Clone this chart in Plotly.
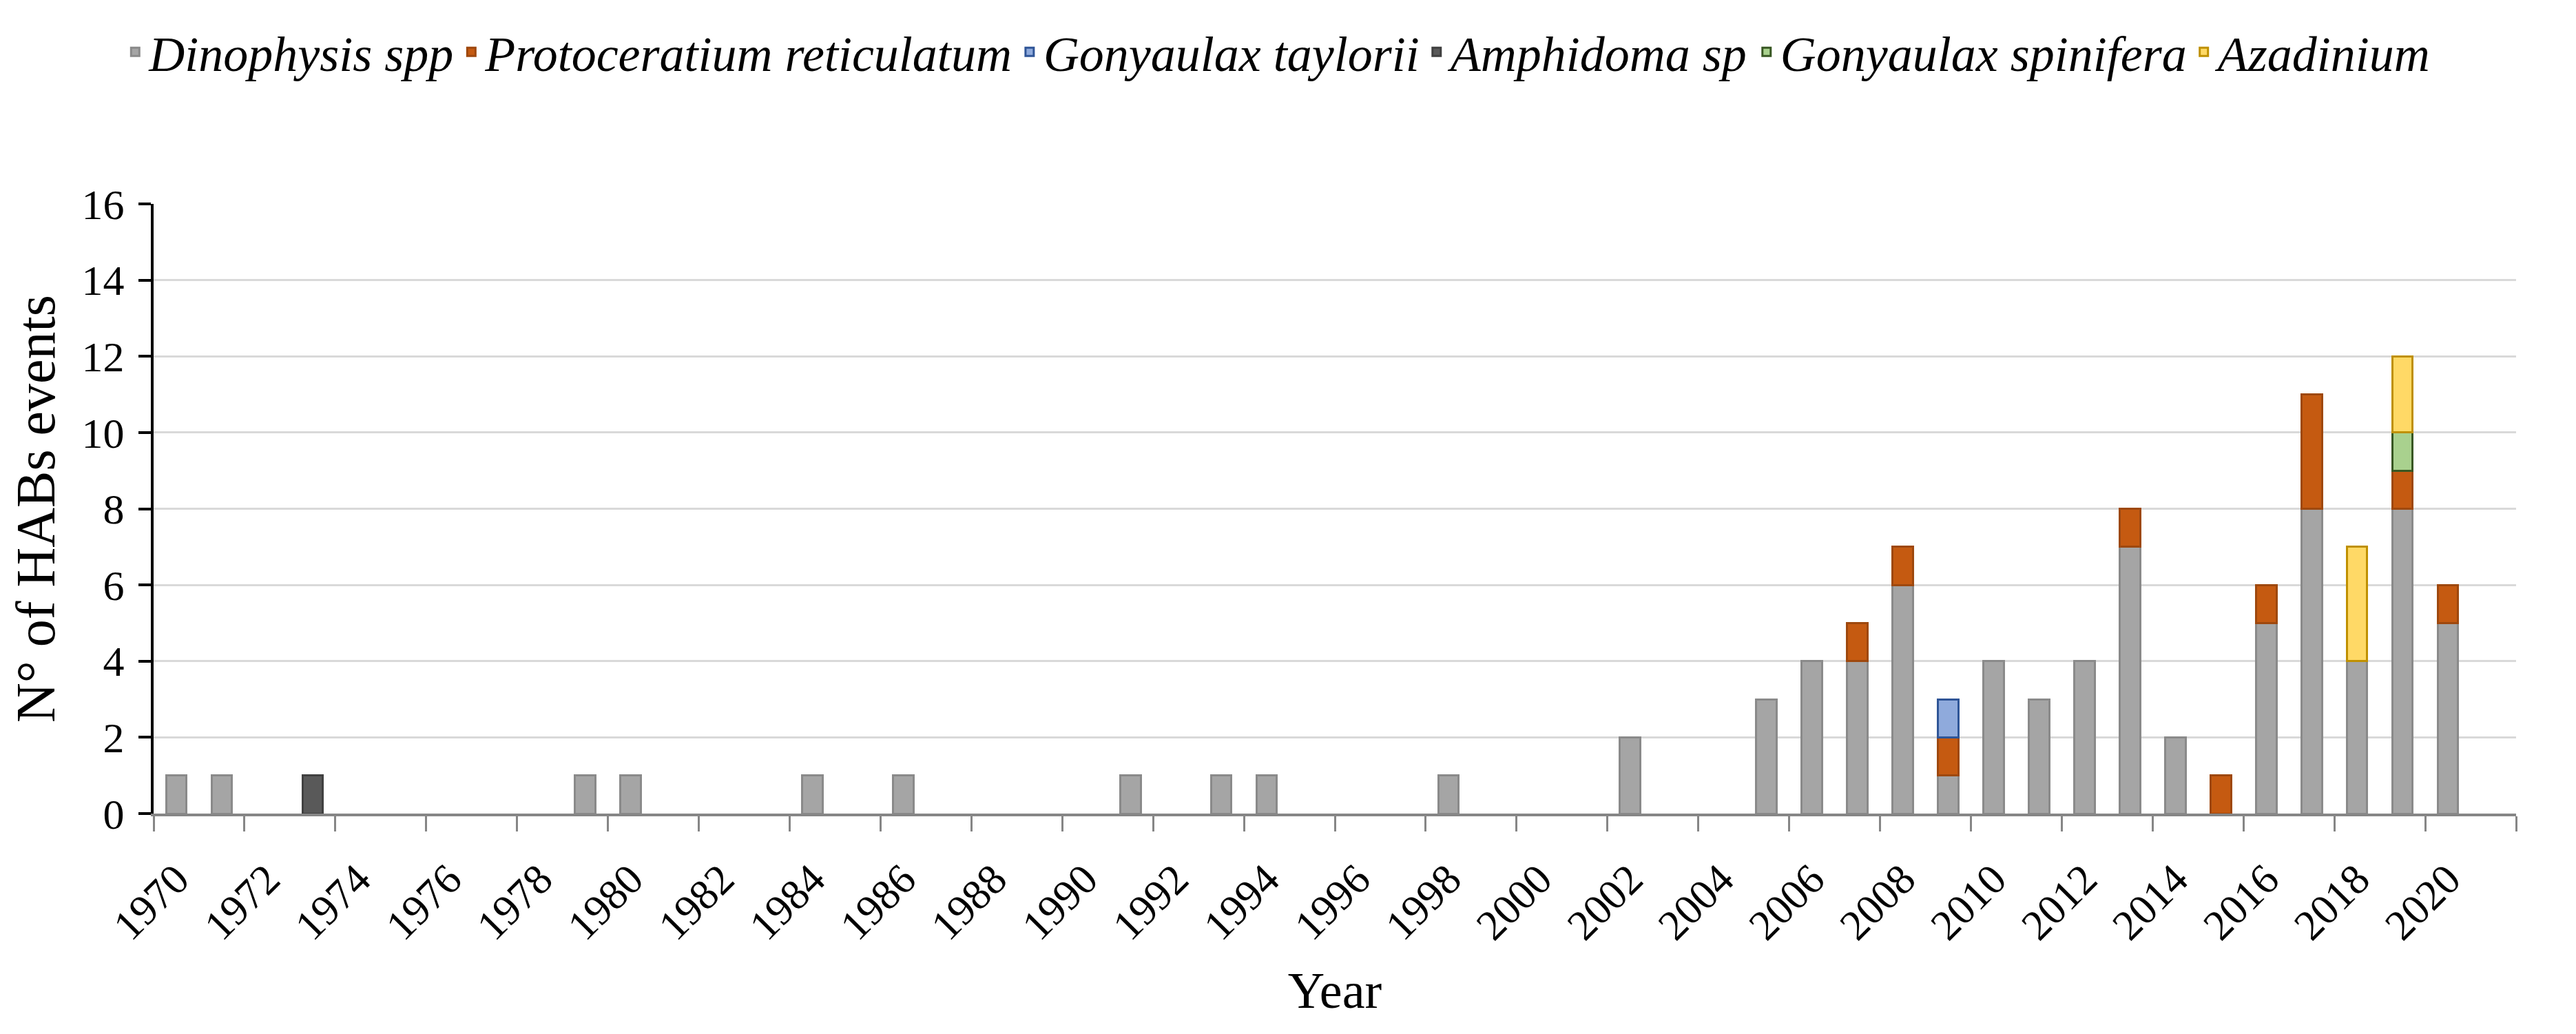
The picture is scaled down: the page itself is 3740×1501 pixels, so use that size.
import plotly.graph_objects as go

years = list(range(1970, 2022))

dinophysis = [1, 1, 0, 0, 0, 0, 0, 0, 0, 1,
              1, 0, 0, 0, 1, 0, 1, 0, 0, 0,
              0, 1, 0, 1, 1, 0, 0, 0, 1, 0,
              0, 0, 2, 0, 0, 3, 4, 4, 6, 1,
              4, 3, 4, 7, 2, 0, 5, 8, 4, 8,
              5, 0]
protoceratium = [0] * 37 + [1, 1, 1, 0, 0, 0, 1, 0, 1, 1, 3, 0, 1, 1, 0]
gonyaulax_taylorii = [0] * 39 + [1] + [0] * 12
amphidoma = [0, 0, 0, 1] + [0] * 48
gonyaulax_spinifera = [0] * 49 + [1, 0, 0]
azadinium = [0] * 48 + [3, 2, 0, 0]

series_names = ["Dinophysis spp", "Protoceratium reticulatum", "Gonyaulax taylorii",
                "Amphidoma sp", "Gonyaulax spinifera", "Azadinium"]
series_values = [dinophysis, protoceratium, gonyaulax_taylorii,
                 amphidoma, gonyaulax_spinifera, azadinium]
fill_colors = ["#A5A5A5", "#C55A11", "#8FAADC", "#595959", "#A9D18E", "#FFD966"]
line_colors = ["#8A8A8A", "#9E480E", "#2F5597", "#404040", "#385723", "#BF9000"]

tick_years = list(range(1970, 2021, 2))
boundary_ticks = [y - 0.5 for y in range(1970, 2023, 2)]

FONT = "Liberation Serif"

fig = go.Figure()
for name, vals, fc, lc in zip(series_names, series_values, fill_colors, line_colors):
    fig.add_trace(go.Bar(
        x=years,
        y=[v if v else None for v in vals],
        name=name,
        marker=dict(color=fc, line=dict(color=lc, width=3)),
    ))

fig.update_layout(
    width=3740, height=1501,
    barmode="stack", bargap=0.55,
    plot_bgcolor="white", paper_bgcolor="white",
    margin=dict(l=215, r=95, t=288, b=328),
    font=dict(family=FONT, size=60, color="black"),
    legend=dict(orientation="h", xref="container", yref="container",
                x=0.045, y=0.955, xanchor="left", yanchor="middle",
                font=dict(family=FONT, size=72, style="italic"),
                traceorder="normal"),
    showlegend=True,
)
fig.update_xaxes(
    range=[1969.5, 2021.5],
    tickmode="array", tickvals=tick_years, ticktext=[str(y) for y in tick_years],
    tickangle=-45, ticks="", showgrid=False, zeroline=False,
    showline=True, linecolor="#868686", linewidth=4,
    tickfont=dict(family=FONT, size=62), ticklabelstandoff=30,
    minor=dict(tickmode="array", tickvals=boundary_ticks, ticks="outside",
               ticklen=22, tickwidth=3, tickcolor="#868686", showgrid=False),
    title=dict(text="Year", font=dict(family=FONT, size=74), standoff=36),
)
fig.update_yaxes(
    range=[0, 16], dtick=2, tick0=0,
    showline=True, linecolor="black", linewidth=4,
    ticks="outside", ticklen=18, tickwidth=4, tickcolor="black",
    showgrid=True, gridcolor="#D9D9D9", gridwidth=3, zeroline=False,
    tickfont=dict(family=FONT, size=62), ticklabelstandoff=8,
    title=dict(text="N° of HABs events", font=dict(family=FONT, size=80), standoff=30),
)

fig.write_html("out.html")
